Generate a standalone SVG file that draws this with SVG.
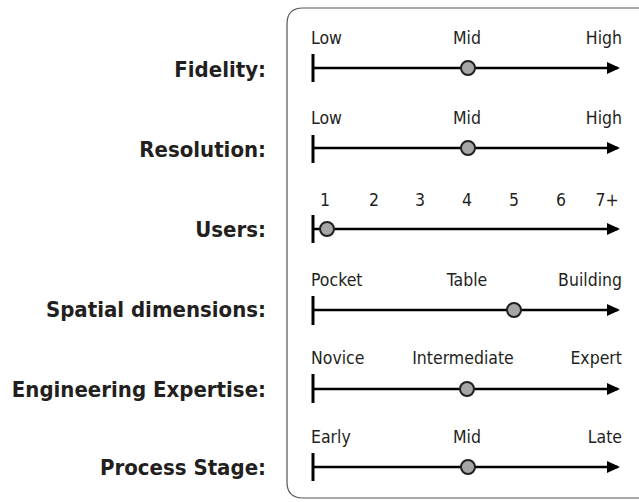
<svg xmlns="http://www.w3.org/2000/svg" width="639" height="502" viewBox="0 0 639 502">
<style>
.lab{font-family:"DejaVu Sans Condensed","Liberation Sans",sans-serif;font-weight:bold;font-size:22px;fill:#231f20;text-anchor:end}
.sc{font-family:"DejaVu Sans Condensed","Liberation Sans",sans-serif;font-size:17.5px;fill:#231f20}
.ax{stroke:#000;stroke-width:2.5;fill:none}
.tk{stroke:#000;stroke-width:3}
.dot{fill:#a6a6a6;stroke:#231f20;stroke-width:2}
</style>
<defs>
<marker id="ah" markerWidth="13" markerHeight="12" refX="11" refY="6" orient="auto" markerUnits="userSpaceOnUse" viewBox="0 0 13 12">
<path d="M0,0 L13,6 L0,12 z" fill="#000"/>
</marker>
</defs>
<path id="frame" d="M660,8 H303 Q287,8 287,24 V482 Q287,498 303,498 H660" fill="#fff" stroke="#555" stroke-width="1.2"/>
<g id="fidelity">
<text class="lab" x="266" y="77">Fidelity:</text>
<text class="sc" x="311" y="44">Low</text><text class="sc" x="467" y="44" text-anchor="middle">Mid</text><text class="sc" x="622" y="44" text-anchor="end">High</text>
<line class="tk" x1="313" y1="54" x2="313" y2="82"/>
<line class="ax" x1="313" y1="68" x2="618" y2="68" marker-end="url(#ah)"/>
<circle class="dot" cx="468" cy="68" r="7"/>
</g>
<g id="resolution">
<text class="lab" x="266" y="157">Resolution:</text>
<text class="sc" x="311" y="124">Low</text><text class="sc" x="467" y="124" text-anchor="middle">Mid</text><text class="sc" x="622" y="124" text-anchor="end">High</text>
<line class="tk" x1="313" y1="135" x2="313" y2="163"/>
<line class="ax" x1="313" y1="148" x2="618" y2="148" marker-end="url(#ah)"/>
<circle class="dot" cx="468" cy="148" r="7"/>
</g>
<g id="users">
<text class="lab" x="266" y="237">Users:</text>
<g class="sc" text-anchor="middle">
<text x="325" y="206">1</text><text x="374" y="206">2</text><text x="420" y="206">3</text><text x="467" y="206">4</text><text x="514" y="206">5</text><text x="561" y="206">6</text><text x="607" y="206">7+</text>
</g>
<line class="tk" x1="313" y1="215" x2="313" y2="243"/>
<line class="ax" x1="313" y1="229" x2="618" y2="229" marker-end="url(#ah)"/>
<circle class="dot" cx="327" cy="229" r="7"/>
</g>
<g id="spatial">
<text class="lab" x="266" y="317">Spatial dimensions:</text>
<text class="sc" x="311" y="286">Pocket</text><text class="sc" x="467" y="286" text-anchor="middle">Table</text><text class="sc" x="622" y="286" text-anchor="end">Building</text>
<line class="tk" x1="313" y1="296" x2="313" y2="325"/>
<line class="ax" x1="313" y1="310" x2="618" y2="310" marker-end="url(#ah)"/>
<circle class="dot" cx="514" cy="310" r="7"/>
</g>
<g id="engineering">
<text class="lab" x="266" y="397">Engineering Expertise:</text>
<text class="sc" x="311" y="364">Novice</text><text class="sc" x="463" y="364" text-anchor="middle">Intermediate</text><text class="sc" x="622" y="364" text-anchor="end">Expert</text>
<line class="tk" x1="313" y1="374" x2="313" y2="403"/>
<line class="ax" x1="313" y1="389" x2="618" y2="389" marker-end="url(#ah)"/>
<circle class="dot" cx="467" cy="389" r="7"/>
</g>
<g id="process">
<text class="lab" x="266" y="475">Process Stage:</text>
<text class="sc" x="311" y="443">Early</text><text class="sc" x="467" y="443" text-anchor="middle">Mid</text><text class="sc" x="622" y="443" text-anchor="end">Late</text>
<line class="tk" x1="313" y1="453" x2="313" y2="481"/>
<line class="ax" x1="313" y1="467" x2="618" y2="467" marker-end="url(#ah)"/>
<circle class="dot" cx="468" cy="467" r="7"/>
</g>
</svg>
